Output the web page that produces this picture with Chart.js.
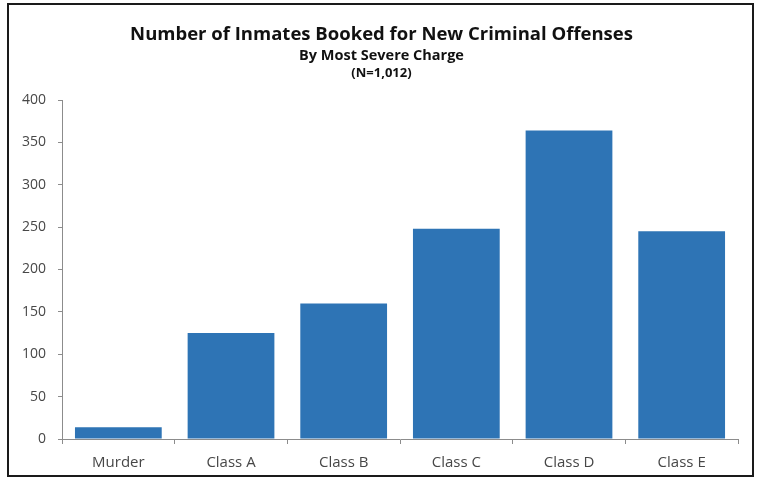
<!DOCTYPE html>
<html>
<head>
<meta charset="utf-8">
<script src="https://cdn.jsdelivr.net/npm/chart.js@4"></script>
<style>
  html, body { margin: 0; padding: 0; background: #fff; overflow: hidden; }
  .frame {
    position: absolute;
    left: 7px; top: 3px;
    width: 743px; height: 470px;
    border: 2px solid #1a1a1a;
    background: #fff;
  }
  canvas { display: block; }
</style>
</head>
<body>
<div class="frame">
  <canvas id="offenseChart" width="743" height="470"></canvas>
</div>
<script>
// Inmates booked, grouped by most severe charge
const categories = ['Murder', 'Class A', 'Class B', 'Class C', 'Class D', 'Class E'];
const inmateCounts = [14, 125, 160, 248, 364, 245];
const yTicks = [0, 50, 100, 150, 200, 250, 300, 350, 400];
const headingLines = [
    'Number of Inmates Booked for New Criminal Offenses',
    'By Most Severe Charge',
    '(N=1,012)'
];

const axisGrey = '#8c8c8c';
const labelGrey = '#474747';
const fontFamily = "'Open Sans', 'Noto Sans', sans-serif";

// Three heading lines of falling size, centred on the whole canvas
// (the built-in title centres over the padded box, which sits off-centre here)
const headings = {
    id: 'headings',
    afterDraw(chart) {
        const ctx = chart.ctx;
        const styles = [
            { size: 18.5, y: 30 },
            { size: 14.5, y: 51 },
            { size: 13, y: 68 }
        ];
        ctx.save();
        ctx.fillStyle = '#111';
        ctx.textAlign = 'center';
        ctx.textBaseline = 'middle';
        headingLines.forEach((line, i) => {
            ctx.font = `bold ${styles[i].size}px ${fontFamily}`;
            ctx.fillText(line, chart.width / 2 + 1, styles[i].y);
        });
        ctx.restore();
    }
};

document.addEventListener('DOMContentLoaded', () => {
    const ctx = document.getElementById('offenseChart').getContext('2d');
    new Chart(ctx, {
        type: 'bar',
        data: {
            labels: categories,
            datasets: [{
                label: 'Inmates',
                data: inmateCounts,
                backgroundColor: '#2e74b5',
                borderWidth: 0,
                barPercentage: 0.77,
                categoryPercentage: 1.0
            }]
        },
        options: {
            responsive: false,
            animation: false,
            layout: { padding: { left: 1, right: 14, top: 95, bottom: -7 } },
            scales: {
                x: {
                    offset: true,
                    grid: {
                        offset: true,
                        drawOnChartArea: false,
                        drawTicks: true,
                        tickLength: 5,
                        color: axisGrey
                    },
                    border: { color: axisGrey, width: 1 },
                    ticks: {
                        color: labelGrey,
                        font: { family: fontFamily, size: 15 },
                        padding: 10
                    }
                },
                y: {
                    min: 0,
                    max: 400,
                    afterBuildTicks: axis => {
                        axis.ticks = yTicks.map(v => ({ value: v }));
                    },
                    grid: {
                        drawOnChartArea: false,
                        drawTicks: true,
                        tickLength: 4,
                        color: axisGrey
                    },
                    border: { color: axisGrey, width: 1 },
                    ticks: {
                        color: labelGrey,
                        font: { family: fontFamily, size: 14 },
                        padding: 12
                    }
                }
            },
            plugins: {
                legend: { display: false },
                tooltip: { enabled: false },
                title: { display: false }
            }
        },
        plugins: [headings]
    });
});
</script>
</body>
</html>
